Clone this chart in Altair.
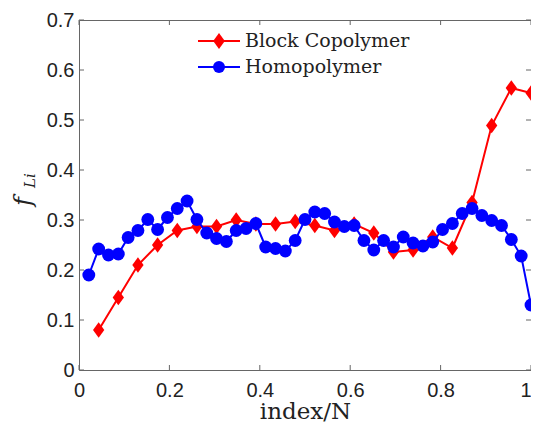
import altair as alt
import pandas as pd

# ---- data ----
series_names = ["Block Copolymer", "Homopolymer"]
series_colors = ["#ff0000", "#0000ff"]

red_x = [0.0435, 0.0870, 0.1304, 0.1739, 0.2174, 0.2609, 0.3043, 0.3478, 0.3913,
         0.4348, 0.4783, 0.5217, 0.5652, 0.6087, 0.6522, 0.6957, 0.7391, 0.7826,
         0.8261, 0.8696, 0.9130, 0.9565, 1.0]
red_y = [0.080, 0.145, 0.210, 0.250, 0.279, 0.287, 0.287, 0.300, 0.292,
         0.292, 0.297, 0.289, 0.279, 0.292, 0.274, 0.236, 0.240, 0.266,
         0.244, 0.335, 0.489, 0.564, 0.554]

blue_x = [0.0217, 0.0435, 0.0652, 0.0870, 0.1087, 0.1304, 0.1522, 0.1739, 0.1957,
          0.2174, 0.2391, 0.2609, 0.2826, 0.3043, 0.3261, 0.3478, 0.3696, 0.3913,
          0.4130, 0.4348, 0.4565, 0.4783, 0.5000, 0.5217, 0.5435, 0.5652, 0.5870,
          0.6087, 0.6304, 0.6522, 0.6739, 0.6957, 0.7174, 0.7391, 0.7609, 0.7826,
          0.8043, 0.8261, 0.8478, 0.8696, 0.8913, 0.9130, 0.9348, 0.9565, 0.9783, 1.0]
blue_y = [0.190, 0.242, 0.230, 0.232, 0.265, 0.279, 0.301, 0.281, 0.305,
          0.323, 0.338, 0.301, 0.274, 0.263, 0.257, 0.279, 0.283, 0.293,
          0.246, 0.243, 0.238, 0.259, 0.301, 0.316, 0.313, 0.296, 0.287,
          0.289, 0.259, 0.240, 0.259, 0.246, 0.266, 0.254, 0.248, 0.256,
          0.281, 0.293, 0.313, 0.323, 0.309, 0.299, 0.289, 0.261, 0.228, 0.130]

x_ticks = [0, 0.2, 0.4, 0.6, 0.8, 1.0]
y_ticks = [0, 0.1, 0.2, 0.3, 0.4, 0.5, 0.6, 0.7]

df = pd.DataFrame({
    "x": red_x + blue_x,
    "y": red_y + blue_y,
    "series": [series_names[0]] * len(red_x) + [series_names[1]] * len(blue_x),
})
red_df = df[df.series == series_names[0]]
blue_df = df[df.series == series_names[1]]

W, H = 452, 350
FRAME = "#666666"
TXT = "#222222"

xs = alt.Scale(domain=[0, 1], nice=False, zero=False)
ys = alt.Scale(domain=[0, 0.7], nice=False, zero=False)
cs = alt.Scale(domain=series_names, range=series_colors)

X = alt.X("x:Q", scale=xs, axis=alt.Axis(
    values=x_ticks, format="~g", title="index/N", labelPadding=10,
    labelAlign={"condition": {"test": "datum.value === 1", "value": "right"}, "value": "center"},
    titleFont="DejaVu Serif", titleFontSize=23, titleFontWeight="normal",
    titleColor=TXT, titleBaseline="alphabetic", titleAnchor="middle",
    titleX=W / 2, titleY=48))
Y = alt.Y("y:Q", scale=ys, axis=alt.Axis(
    values=y_ticks, format="~g", title=None, labelPadding=5))
C = alt.Color("series:N", scale=cs, legend=None)

diamond = "M0,-1L0.73,0L0,1L-0.73,0Z"

red_line = alt.Chart(red_df).mark_line(strokeWidth=2).encode(x=X, y=Y, color=C)
red_pts = alt.Chart(red_df).mark_point(
    filled=True, shape=diamond, size=240, opacity=1).encode(x=X, y=Y, color=C)
blue_line = alt.Chart(blue_df).mark_line(strokeWidth=2).encode(x=X, y=Y, color=C)
blue_pts = alt.Chart(blue_df).mark_point(
    filled=True, shape="circle", size=165, opacity=1).encode(x=X, y=Y, color=C)

# inward ticks on all four sides of the box
xt = pd.DataFrame({"x": x_ticks})
yt = pd.DataFrame({"y": y_ticks})
tick_b = alt.Chart(xt).mark_rule(color=FRAME, strokeWidth=1).encode(
    x=X, y=alt.value(H), y2=alt.value(H - 5))
tick_t = alt.Chart(xt).mark_rule(color=FRAME, strokeWidth=1).encode(
    x=X, y=alt.value(0), y2=alt.value(5))
tick_l = alt.Chart(yt).mark_rule(color=FRAME, strokeWidth=1).encode(
    y=Y, x=alt.value(0), x2=alt.value(5))
tick_r = alt.Chart(yt).mark_rule(color=FRAME, strokeWidth=1).encode(
    y=Y, x=alt.value(W), x2=alt.value(W - 5))

# y-axis title  f_{Li}
lab = pd.DataFrame({"k": [0]})
f_txt = alt.Chart(lab).mark_text(
    text="f", angle=270, align="left", baseline="alphabetic",
    font="DejaVu Serif", fontStyle="italic", fontSize=24, color=TXT
).encode(x=alt.value(-48), y=alt.value(186))
li_txt = alt.Chart(lab).mark_text(
    text="Li", angle=270, align="left", baseline="alphabetic",
    font="DejaVu Serif", fontStyle="italic", fontSize=15, color=TXT
).encode(x=alt.value(-44), y=alt.value(168))

# legend: line + marker + label for each series (colours via the series scale)
leg1 = pd.DataFrame({"series": [series_names[0]]})
leg2 = pd.DataFrame({"series": [series_names[1]]})
ROW1, ROW2 = 21, 47
LX0, LX1, LXM, LXT = 119, 161, 140, 166


def legend_row(d, yrow, shape, size):
    ln = alt.Chart(d).mark_rule(strokeWidth=2).encode(
        x=alt.value(LX0), x2=alt.value(LX1), y=alt.value(yrow), color=C)
    mk = alt.Chart(d).mark_point(filled=True, shape=shape, size=size, opacity=1).encode(
        x=alt.value(LXM), y=alt.value(yrow), color=C)
    tx = alt.Chart(d).mark_text(
        align="left", baseline="middle", font="DejaVu Serif", fontSize=19, color=TXT
    ).encode(x=alt.value(LXT), y=alt.value(yrow), text="series:N")
    return [ln, mk, tx]


legend_layers = legend_row(leg1, ROW1, diamond, 256) + legend_row(leg2, ROW2, "circle", 144)

chart = alt.layer(
    red_line, red_pts, blue_line, blue_pts,
    tick_b, tick_t, tick_l, tick_r,
    f_txt, li_txt, *legend_layers,
).properties(
    width=W, height=H,
    background="white",
    autosize=alt.AutoSizeParams(type="none"),
    padding={"left": 71, "top": 12, "right": 0, "bottom": 56},
).configure_view(
    stroke=FRAME, strokeWidth=1
).configure_axis(
    grid=False, domain=False, ticks=False, tickSize=0,
    labelFont="Liberation Sans", labelFontSize=20, labelColor=TXT,
)

chart.save("out.html", embed_options={"renderer": "svg", "actions": False})
